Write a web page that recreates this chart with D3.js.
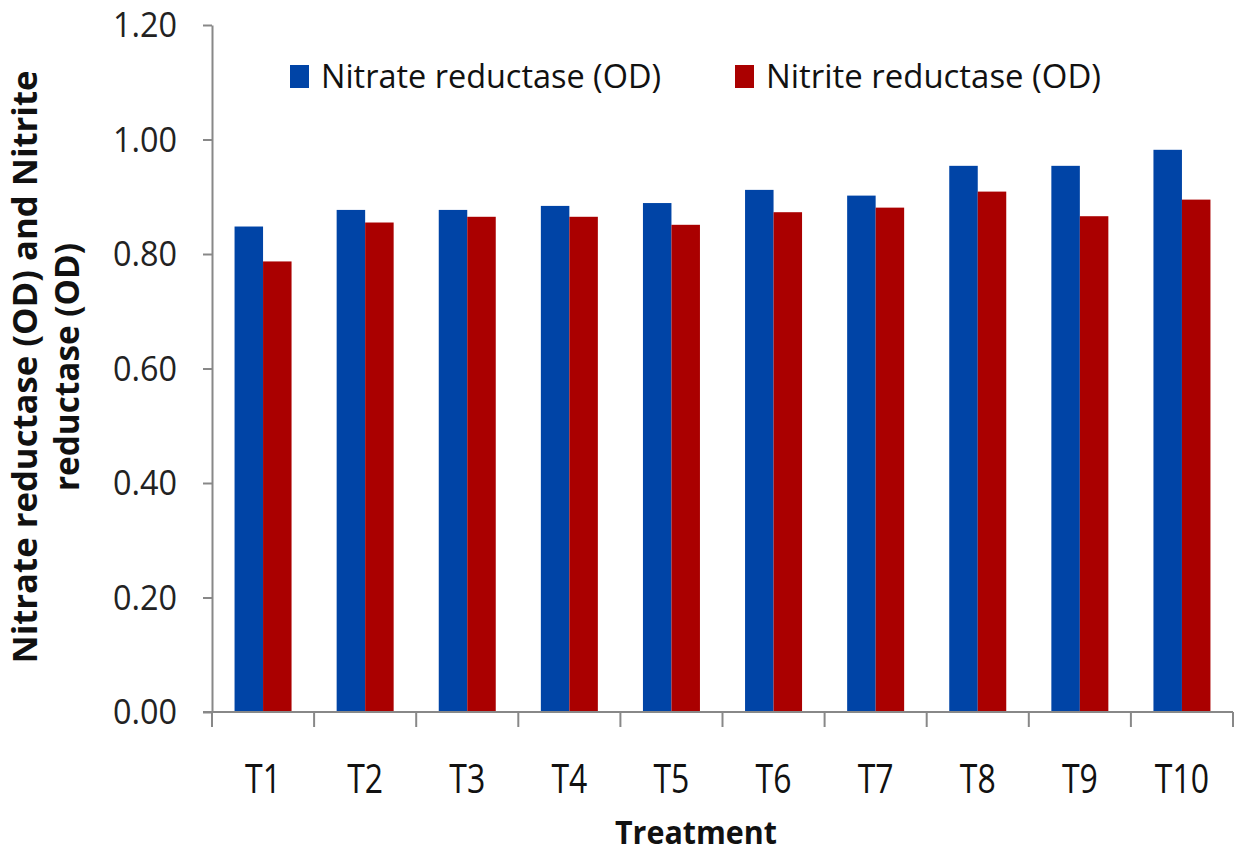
<!DOCTYPE html>
<html><head><meta charset="utf-8">
<script src="https://cdn.jsdelivr.net/npm/d3@7"></script>
<style>body{margin:0;background:#fff;} svg{display:block;}</style>
</head><body>
<svg id="c" width="1236" height="855"></svg>
<script>
const categories = ["T1","T2","T3","T4","T5","T6","T7","T8","T9","T10"];
const nitrate = [0.848,0.877,0.877,0.884,0.889,0.912,0.902,0.954,0.954,0.982];
const nitrite = [0.787,0.855,0.865,0.865,0.851,0.873,0.881,0.909,0.866,0.895];
const seriesNames = ["Nitrate reductase (OD)","Nitrite reductase (OD)"];
const colors = ["#0044A6","#AA0000"];
const yTicks = [0,0.2,0.4,0.6,0.8,1.0,1.2];

const FONT = "Open Sans, DejaVu Sans, sans-serif";
const svg = d3.select("#c");
const m = {left:212, right:1233, top:25, bottom:712};
const x = d3.scaleBand().domain(categories).range([m.left,m.right]);
const y = d3.scaleLinear().domain([0,1.2]).range([m.bottom,m.top]);
const bw = 28.5;

// bars
const g = svg.append("g");
[nitrate, nitrite].forEach((vals,si)=>{
  g.selectAll(null).data(categories).enter().append("rect")
    .attr("x",d=>x(d)+x.bandwidth()/2 - bw + si*bw)
    .attr("y",(d,i)=>y(vals[i]))
    .attr("width",bw)
    .attr("height",(d,i)=>y(0)-y(vals[i]))
    .attr("fill",colors[si]);
});

// y axis
const yAxis = d3.axisLeft(y).tickValues(yTicks).tickFormat(d3.format(".2f")).tickSize(9).tickSizeOuter(0).tickPadding(26);
const ya = svg.append("g").attr("transform",`translate(${m.left},0)`).call(yAxis);
ya.select(".domain").attr("stroke","#888").attr("stroke-width",2);
ya.selectAll(".tick line").attr("stroke","#888").attr("stroke-width",2);
ya.selectAll("text").attr("font-family",FONT).attr("font-size",35).attr("fill","#222")
  .attr("textLength",64).attr("lengthAdjust","spacingAndGlyphs").attr("dy","0.34em");

// x axis
const xa = svg.append("g").attr("transform",`translate(0,${m.bottom})`);
xa.append("line").attr("x1",m.left-9).attr("x2",m.right).attr("y1",0).attr("y2",0).attr("stroke","#888").attr("stroke-width",2);
const bounds = categories.map(c=>x(c)).concat([m.right]);
xa.selectAll(null).data(bounds).enter().append("line")
  .attr("x1",d=>d).attr("x2",d=>d).attr("y1",0).attr("y2",15).attr("stroke","#888").attr("stroke-width",2);
xa.selectAll(null).data(categories).enter().append("text")
  .attr("transform",d=>`translate(${x(d)+x.bandwidth()/2},81) scale(0.78,1)`)
  .attr("text-anchor","middle")
  .attr("font-family",FONT)
  .attr("font-size",41).attr("fill","#111").text(d=>d);

// axis titles
svg.append("text").attr("x",696).attr("y",844).attr("text-anchor","middle")
  .attr("font-family",FONT).attr("font-weight","bold")
  .attr("font-size",33).attr("fill","#111")
  .attr("textLength",162).attr("lengthAdjust","spacingAndGlyphs").text("Treatment");
const yt = svg.append("text").attr("transform","translate(0,367) rotate(-90)")
  .attr("text-anchor","middle").attr("font-family",FONT)
  .attr("font-weight","bold").attr("font-size",34).attr("fill","#111");
yt.append("tspan").attr("x",0).attr("y",37).attr("textLength",593).attr("lengthAdjust","spacingAndGlyphs")
  .text("Nitrate reductase (OD) and Nitrite");
yt.append("tspan").attr("x",0).attr("y",79).attr("textLength",248).attr("lengthAdjust","spacingAndGlyphs")
  .text("reductase (OD)");

// legend
const legX = [290,735];
const legW = [340,335];
seriesNames.forEach((n,i)=>{
  svg.append("rect").attr("x",legX[i]).attr("y",65).attr("width",19).attr("height",23).attr("fill",colors[i]);
  svg.append("text").attr("x",legX[i]+31).attr("y",88)
    .attr("font-family",FONT).attr("font-size",32).attr("fill","#111")
    .attr("textLength",legW[i]).attr("lengthAdjust","spacingAndGlyphs").text(n);
});
</script>
</body></html>
